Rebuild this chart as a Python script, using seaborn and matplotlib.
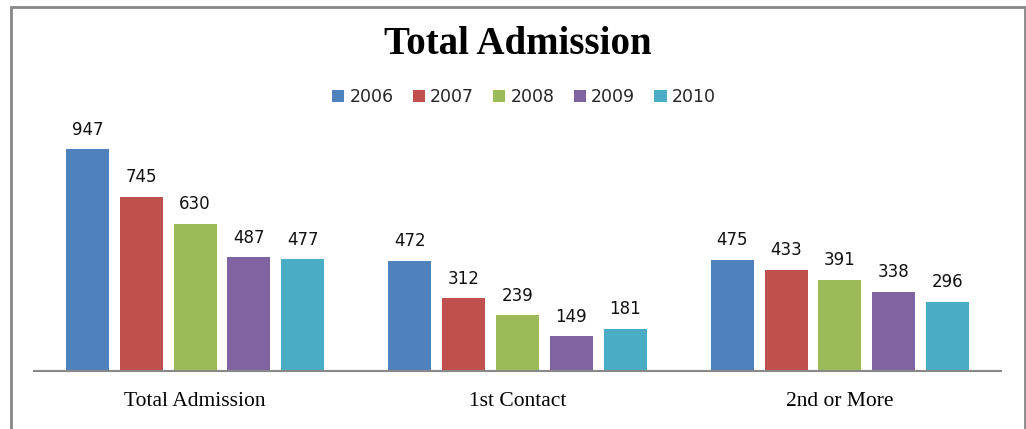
import pandas as pd
import seaborn as sns
import matplotlib.pyplot as plt
from matplotlib.patches import Rectangle

categories = ['Total Admission', '1st Contact', '2nd or More']
years = ['2006', '2007', '2008', '2009', '2010']
v2006 = [947, 472, 475]
v2007 = [745, 312, 433]
v2008 = [630, 239, 391]
v2009 = [487, 149, 338]
v2010 = [477, 181, 296]
colors = ['#4f81bd', '#c0504d', '#9bbb59', '#8064a2', '#4bacc6']

rows = []
for yr, vals in zip(years, [v2006, v2007, v2008, v2009, v2010]):
    for cat, v in zip(categories, vals):
        rows.append({'category': cat, 'year': yr, 'value': v})
df = pd.DataFrame(rows)

sns.set_style('white')
fig = plt.figure(figsize=(10.26, 4.29), dpi=100)
ax = fig.add_axes([34 / 1026, 1 - 371 / 429, 967 / 1026, 234 / 429])

sns.barplot(data=df, x='category', y='value', hue='year', order=categories,
            hue_order=years, palette=colors, width=0.834, gap=0.2,
            saturation=1, linewidth=0, ax=ax)

for cont in ax.containers:
    for bar in cont:
        h = bar.get_height()
        ax.annotate(f'{h:.0f}', (bar.get_x() + bar.get_width() / 2, h),
                    xytext=(0, 14), textcoords='offset points',
                    ha='center', va='center', fontsize=12,
                    family='DejaVu Sans', color='#111111', clip_on=False)

ax.set_xlim(-0.5, 2.5)
ax.set_ylim(0, 1000)
ax.set_yticks([])
ax.set_xlabel('')
ax.set_ylabel('')
for s in ['top', 'right', 'left']:
    ax.spines[s].set_visible(False)
ax.spines['bottom'].set_color('#888888')
ax.spines['bottom'].set_linewidth(1.5)
ax.tick_params(axis='x', length=0, pad=15)
for lbl in ax.get_xticklabels():
    lbl.set_family('Liberation Serif')
    lbl.set_fontsize(15.5)
    lbl.set_color('black')

handles, labels = ax.get_legend_handles_labels()
ax.legend_.remove()
fig.legend(handles, labels, loc='center', bbox_to_anchor=(524 / 1026, 1 - 97 / 429),
           ncol=5, frameon=False, fontsize=12.5, handlelength=0.7, handleheight=0.7,
           handletextpad=0.3, columnspacing=1.1)

fig.text(518 / 1026, 1 - 45 / 429, 'Total Admission', ha='center', va='center',
         fontsize=28, fontweight='bold', family='Liberation Serif', color='black')

fig.patches.append(Rectangle((11 / 1026, -0.05), (1025 - 11) / 1026, 1.05 - 7 / 429,
                             transform=fig.transFigure, fill=False,
                             edgecolor='#888888', linewidth=2))

fig.savefig('out.png', dpi=100)
